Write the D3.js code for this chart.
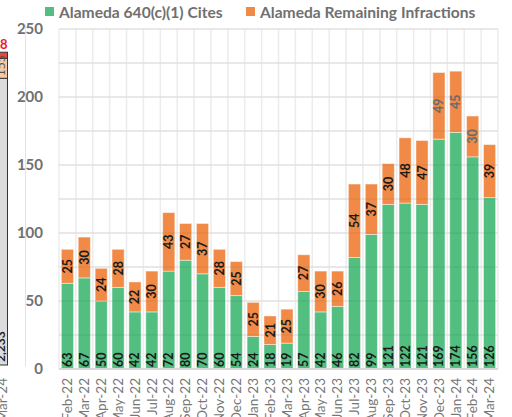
<!DOCTYPE html>
<html>
<head>
<meta charset="utf-8">
<script src="https://cdn.jsdelivr.net/npm/d3@7"></script>
<style>
  body { margin: 0; background: #fff; }
  svg { display: block; font-family: Lato, "Open Sans", sans-serif; }
</style>
</head>
<body>
<svg id="chart" width="512" height="417"></svg>
<script>
// months on the x axis
const months = ['Feb-22','Mar-22','Apr-22','May-22','Jun-22','Jul-22','Aug-22','Sep-22','Oct-22','Nov-22','Dec-22',
  'Jan-23','Feb-23','Mar-23','Apr-23','May-23','Jun-23','Jul-23','Aug-23','Sep-23','Oct-23','Nov-23','Dec-23',
  'Jan-24','Feb-24','Mar-24'];
// Alameda 640(c)(1) cites
const cites = [63,67,50,60,42,42,72,80,70,60,54,24,18,19,57,42,46,82,99,121,122,121,169,174,156,126];
// Alameda remaining infractions
const remaining = [25,30,24,28,22,30,43,27,37,28,25,25,21,25,27,30,26,54,37,30,48,47,49,45,30,39];
const yTicks = [0,50,100,150,200,250];
const seriesNames = ['Alameda 640(c)(1) Cites','Alameda Remaining Infractions'];

// the neighbouring chart that is cut off on the left edge
const sideMonth = 'Mar-24';
const sideSegments = [2233, 155, 48];
const sideLabels = ['2,233', '155', '48'];

const green = '#52be80', orange = '#f08a46';
const svg = d3.select('#chart');

// ---- cut-off neighbour chart
const sy = d3.scaleLinear().domain([0, 2500]).range([365, 44]);
const side = svg.append('g');
side.append('line').attr('x1', 25.5).attr('x2', 25.5).attr('y1', 25).attr('y2', 366)
  .attr('stroke', '#e3e3e3');
let acc = 0;
const sideFill = ['#dcdcdc', '#f7c9a6', '#e8453c'];
sideSegments.forEach((v, i) => {
  side.append('rect').attr('x', -6).attr('width', 13.5)
    .attr('y', sy(acc + v)).attr('height', sy(acc) - sy(acc + v))
    .attr('fill', sideFill[i]).attr('stroke', '#333').attr('stroke-width', 1);
  acc += v;
});
side.append('text').attr('x', 7.5).attr('y', sy(acc) - 3).attr('text-anchor', 'end')
  .attr('fill', '#e8202a').attr('font-weight', 'bold').attr('font-size', 13).text(sideLabels[2]);
side.append('text').attr('transform', `translate(5,${sy(0) - 3}) rotate(-90)`)
  .attr('font-size', 12).attr('font-weight', 'bold').attr('fill', '#222').text(sideLabels[0]);
side.append('text').attr('transform', `translate(5,${sy(sideSegments[0]) - 2}) rotate(-90)`)
  .attr('font-size', 12).attr('fill', '#555').text(sideLabels[1]);
side.append('text').attr('transform', 'translate(7,378) rotate(-90)').attr('text-anchor', 'end')
  .attr('font-size', 13.5).attr('fill', '#777').text(sideMonth);

// ---- main chart
const plotLeft = 59, plotRight = 498, plotTop = 29, plotBottom = 369;
const x = d3.scaleBand().domain(months).range([plotLeft, plotRight]).paddingInner(0.28).paddingOuter(0.14);
const y = d3.scaleLinear().domain([0, 250]).range([plotBottom, plotTop]);
const step = x.step();

// grid
const grid = svg.append('g');
grid.selectAll('line.h').data(d3.range(0, 251, 25)).join('line')
  .attr('x1', plotLeft).attr('x2', plotRight)
  .attr('y1', d => y(d)).attr('y2', d => y(d))
  .attr('stroke', '#ececec').attr('stroke-width', 1.5);
grid.selectAll('line.v').data(d3.range(months.length + 1)).join('line')
  .attr('x1', i => plotLeft + i * step).attr('x2', i => plotLeft + i * step)
  .attr('y1', plotTop).attr('y2', plotBottom)
  .attr('stroke', '#ececec').attr('stroke-width', 1.5);

const rows = months.map((m, i) => ({ m, c: cites[i], r: remaining[i] }));
const bars = svg.append('g');
bars.selectAll('rect.c').data(rows).join('rect')
  .attr('x', d => x(d.m)).attr('width', x.bandwidth())
  .attr('y', d => y(d.c)).attr('height', d => y(0) - y(d.c))
  .attr('fill', green).attr('stroke', 'rgba(255,255,255,0.45)').attr('stroke-width', 1);
bars.selectAll('rect.r').data(rows).join('rect')
  .attr('x', d => x(d.m)).attr('width', x.bandwidth())
  .attr('y', d => y(d.c + d.r)).attr('height', d => y(d.c) - y(d.c + d.r))
  .attr('fill', orange).attr('stroke', 'rgba(255,255,255,0.45)').attr('stroke-width', 1);

// faint grid showing through the bars
svg.append('g').selectAll('line').data(d3.range(25, 251, 25)).join('line')
  .attr('x1', plotLeft).attr('x2', plotRight)
  .attr('y1', d => y(d)).attr('y2', d => y(d))
  .attr('stroke', '#000').attr('stroke-opacity', 0.05).attr('stroke-width', 1.5);

// baseline
svg.append('line').attr('x1', plotLeft).attr('x2', plotRight).attr('y1', plotBottom).attr('y2', plotBottom)
  .attr('stroke', '#d9d9d9').attr('stroke-width', 2);

// value labels
const labels = svg.append('g').attr('font-size', 12.5).attr('font-weight', 'bold');
labels.selectAll('text.c').data(rows).join('text')
  .attr('transform', d => `translate(${x(d.m) + x.bandwidth() / 2 + 4.5},${y(0) - 2}) rotate(-90)`)
  .attr('fill', '#1a1a1a').text(d => d.c);
labels.selectAll('text.r').data(rows).join('text')
  .attr('transform', d => `translate(${x(d.m) + x.bandwidth() / 2 + 4.5},${y(d.c + d.r / 2)}) rotate(-90)`)
  .attr('text-anchor', 'middle')
  .attr('fill', d => d.c + d.r > 180 ? '#6a6a6a' : '#1a1a1a').text(d => d.r);

// y axis
const yAxis = svg.append('g').attr('transform', `translate(${plotLeft},0)`)
  .call(d3.axisLeft(y).tickValues(yTicks).tickSize(0).tickPadding(16));
yAxis.select('.domain').remove();
yAxis.selectAll('text').attr('font-size', 15).attr('font-weight', 'bold').attr('fill', '#707070')
  .attr('font-family', 'Lato, sans-serif');

// x axis
const xAxis = svg.append('g').attr('transform', `translate(0,${plotBottom})`)
  .call(d3.axisBottom(x).tickSize(0));
xAxis.select('.domain').remove();
xAxis.selectAll('text')
  .attr('transform', 'rotate(-90)').attr('text-anchor', 'end')
  .attr('x', -9).attr('y', 0).attr('dy', '0.35em')
  .attr('font-size', 13.5).attr('fill', '#777').attr('font-family', 'Lato, sans-serif');

// legend
const legend = svg.append('g');
const legendX = [45, 246];
seriesNames.forEach((name, i) => {
  legend.append('rect').attr('x', legendX[i]).attr('y', 7).attr('width', 9).attr('height', 9)
    .attr('fill', i === 0 ? green : orange);
  legend.append('text').attr('x', legendX[i] + 14).attr('y', 17.5)
    .attr('font-size', 15.6).attr('font-weight', 'bold').attr('fill', '#707070').text(name);
});
</script>
</body>
</html>
